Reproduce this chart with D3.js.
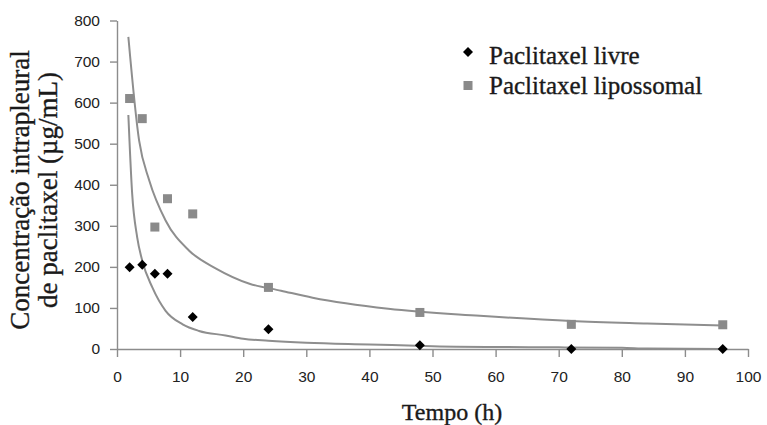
<!DOCTYPE html>
<html>
<head>
<meta charset="utf-8">
<script src="https://cdn.jsdelivr.net/npm/d3@7"></script>
<style>
  body { margin: 0; background: #fff; }
  svg { display: block; }
  .axis path, .axis line { stroke: #8c8c8c; stroke-width: 1.4; }
  .axis text { font-family: "Liberation Sans", sans-serif; font-size: 15.5px; fill: #222; }
  .ttl { font-family: "Liberation Serif", serif; fill: #1a1a1a; stroke: #1a1a1a; stroke-width: 0.35; }
</style>
</head>
<body>
<svg width="767" height="425"></svg>
<script>
// sampling times (h)
var tempos = [2, 4, 6, 8, 12, 24, 48, 72, 96];
// measured concentrations (ug/mL)
var livre = [199, 205, 183, 183, 78, 48, 9, 0, 0];
var lipossomal = [610, 561, 297, 366, 329, 150, 89, 60, 59];

// fitted curves
var livreCurvaT = [1.8, 2.4, 3.2, 4, 5.6, 7.7, 10.4, 13, 17.2, 20, 24, 30, 40, 50, 70, 80, 84, 96];
var livreCurvaV = [570, 379, 272, 215, 150, 93, 60, 44, 33, 25, 20, 15, 11, 7, 4, 3, 1, 0];
var lipoCurvaT = [1.8, 3.5, 5.1, 7.7, 11.4, 15.7, 21, 26, 31, 43, 57.5, 72, 84, 96];
var lipoCurvaV = [760, 508, 411, 313, 240, 196, 159, 142, 125, 98, 81, 68, 62, 57];

var xTicks = [0, 10, 20, 30, 40, 50, 60, 70, 80, 90, 100];
var yTicks = [0, 100, 200, 300, 400, 500, 600, 700, 800];
var legendLabels = ["Paclitaxel livre", "Paclitaxel lipossomal"];

var svg = d3.select("svg"),
    margin = {top: 20.5, right: 19, bottom: 76, left: 117},
    width = 767 - margin.left - margin.right,
    height = 425 - margin.top - margin.bottom,
    g = svg.append("g").attr("transform", "translate(" + margin.left + "," + margin.top + ")");

var x = d3.scaleLinear().domain([0, 100]).range([0, width]);
var y = d3.scaleLinear().domain([0, 800]).range([height, 0]);

g.append("g")
    .attr("class", "axis")
    .attr("transform", "translate(0," + height + ")")
    .call(d3.axisBottom(x).tickValues(xTicks).tickSize(8).tickPadding(14).tickSizeOuter(0))
g.append("g")
    .attr("class", "axis")
    .call(d3.axisLeft(y).tickValues(yTicks).tickSize(7).tickPadding(10).tickSizeOuter(0))

var line = d3.line()
    .x(function(d) { return x(d[0]); })
    .y(function(d) { return y(d[1]); })
    .curve(d3.curveMonotoneX);

g.append("path")
    .datum(d3.zip(lipoCurvaT, lipoCurvaV))
    .attr("fill", "none")
    .attr("stroke", "#8e8e8e")
    .attr("stroke-width", 2)
    .attr("d", line)
g.append("path")
    .datum(d3.zip(livreCurvaT, livreCurvaV))
    .attr("fill", "none")
    .attr("stroke", "#8e8e8e")
    .attr("stroke-width", 2)
    .attr("d", line)

var diamond = d3.symbol().type(d3.symbolSquare).size(50);

g.selectAll(".sq")
    .data(d3.zip(tempos, lipossomal))
  .enter().append("rect")
    .attr("class", "sq")
    .attr("x", function(d) { return x(d[0]) - 4.5; })
    .attr("y", function(d) { return y(d[1]) - 4.5; })
    .attr("width", 9)
    .attr("height", 9)
    .attr("fill", "#8a8a8a")

g.selectAll(".dm")
    .data(d3.zip(tempos, livre))
  .enter().append("path")
    .attr("class", "dm")
    .attr("transform", function(d) { return "translate(" + x(d[0]) + "," + y(d[1]) + ") rotate(45)"; })
    .attr("d", diamond)
    .attr("fill", "#000")

// legend
var leg = svg.append("g").attr("transform", "translate(468,52)");
leg.append("path").attr("d", diamond).attr("transform", "rotate(45)").attr("fill", "#000")
leg.append("rect").attr("x", -4.5).attr("y", 29).attr("width", 9).attr("height", 9).attr("fill", "#8a8a8a")
leg.selectAll("text")
    .data(legendLabels)
  .enter().append("text")
    .attr("class", "ttl")
    .attr("x", 21)
    .attr("y", function(d, i) { return 12 + i * 30; })
    .style("font-size", "25px")
    .text(function(d) { return d; })

// axis titles
svg.append("text")
    .attr("class", "ttl")
    .attr("x", 452)
    .attr("y", 420)
    .attr("text-anchor", "middle")
    .style("font-size", "24px")
    .text("Tempo (h)")

var yt = svg.append("text")
    .attr("class", "ttl")
    .attr("transform", "translate(0,190) rotate(-90)")
    .attr("text-anchor", "middle")
    .style("font-size", "27px")
yt.append("tspan").attr("x", 0).attr("y", 29).text("Concentração intrapleural")
yt.append("tspan").attr("x", 0).attr("y", 57).text("de paclitaxel (µg/mL)")
</script>
</body>
</html>
